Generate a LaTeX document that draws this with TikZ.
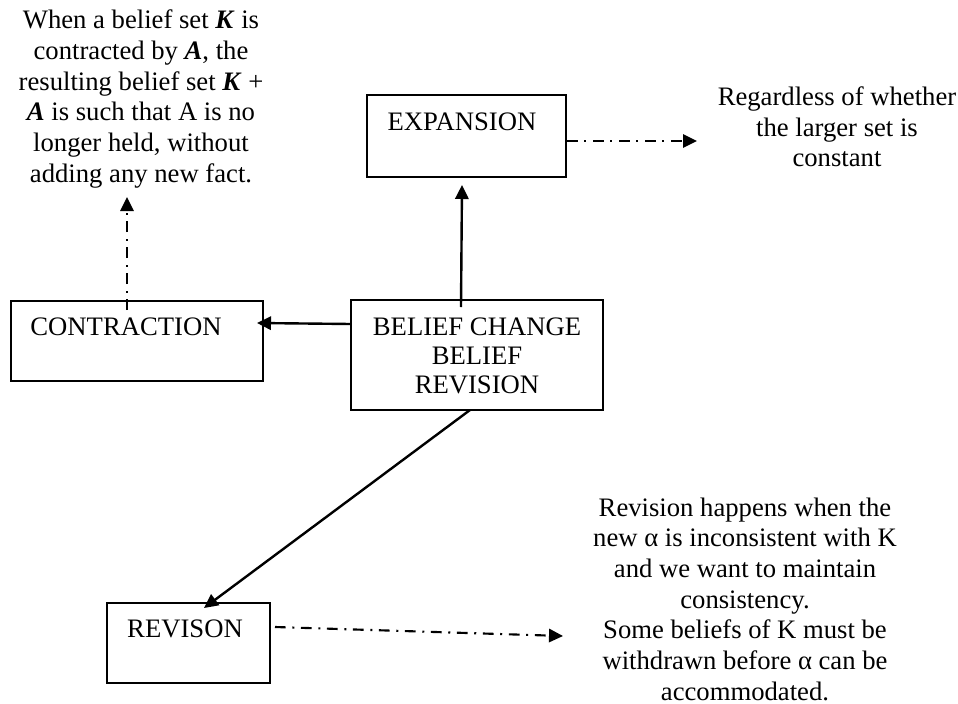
\documentclass[tikz,border=0pt]{standalone}
\usepackage{fontspec}
\setmainfont{Liberation Serif}
\usetikzlibrary{arrows.meta,calc}
\begin{document}
\begin{tikzpicture}[x=0.75pt,y=-0.75pt,
  box/.style={draw,line width=1.3pt,inner sep=0pt,outer sep=0pt},
  lbl/.style={inner sep=0pt,outer sep=0pt,font=\fontsize{20}{23}\selectfont},
  para/.style={inner sep=0pt,outer sep=0pt,align=center,font=\fontsize{20}{23}\selectfont},
  arr/.style={line width=1.8pt,-{Triangle[length=10.5pt,width=10pt]}},
  dd/.style={line width=1.6pt,dash pattern=on 8pt off 5pt on 1.5pt off 5pt,-{Triangle[length=10.5pt,width=10pt]}}]
\useasboundingbox (0,0) rectangle (958,704);
% boxes
\node[box,minimum width=149.25pt,minimum height=61.5pt] (expansion) at (466.5,136) {};
\node[box,minimum width=189pt,minimum height=60pt] (contraction) at (137,341) {};
\node[box,minimum width=189pt,minimum height=82.5pt] (belief) at (477,355) {};
\node[box,minimum width=122.25pt,minimum height=60pt] (revison) at (188.5,643) {};
% box labels
\node[lbl] (expT) at (462,122) {EXPANSION};
\node[lbl] (conT) at (126,327) {CONTRACTION};
\node[para,font=\fontsize{20}{22}\selectfont] (belT) at (477,356) {BELIEF CHANGE\\BELIEF\\REVISION};
\node[lbl] (revT) at (185,629) {REVISON};
% texts
\node[para] (leftT) at (141,99) {When a belief set \textbf{\textit{K}} is\\contracted by \textbf{\textit{A}}, the\\resulting belief set \textbf{\textit{K}} +\\\textbf{\textit{A}} is such that A is no\\longer held, without\\adding any new fact.};
\node[para] (rightT) at (837,127) {Regardless of whether\\the larger set is\\constant};
\node[para] (botT) at (745,599) {Revision happens when the\\new α is inconsistent with K\\and we want to maintain\\consistency.\\Some beliefs of K must be\\withdrawn before α can be\\accommodated.};
% connectors
\draw[arr] ($(belief.north)+(-16,7)$) -- ($(expansion.south)+(-4.5,8)$);
\draw[arr] ($(belief.west)+(0,-31)$) -- ($(contraction.east)+(-6,-18)$);
\draw[arr] ($(belief.south)+(-7,0)$) -- ($(revison.north)+(15.5,5)$);
\draw[dd] ($(contraction.north)+(-10,9)$) -- ($(contraction.north)+(-10,-104)$);
\draw[dd] ($(expansion.east)+(1,5)$) -- ($(expansion.east)+(131,5)$);
\draw[dd] ($(revison.east)+(5,-16)$) -- ($(revison.east)+(293,-7)$);
\end{tikzpicture}
\end{document}
